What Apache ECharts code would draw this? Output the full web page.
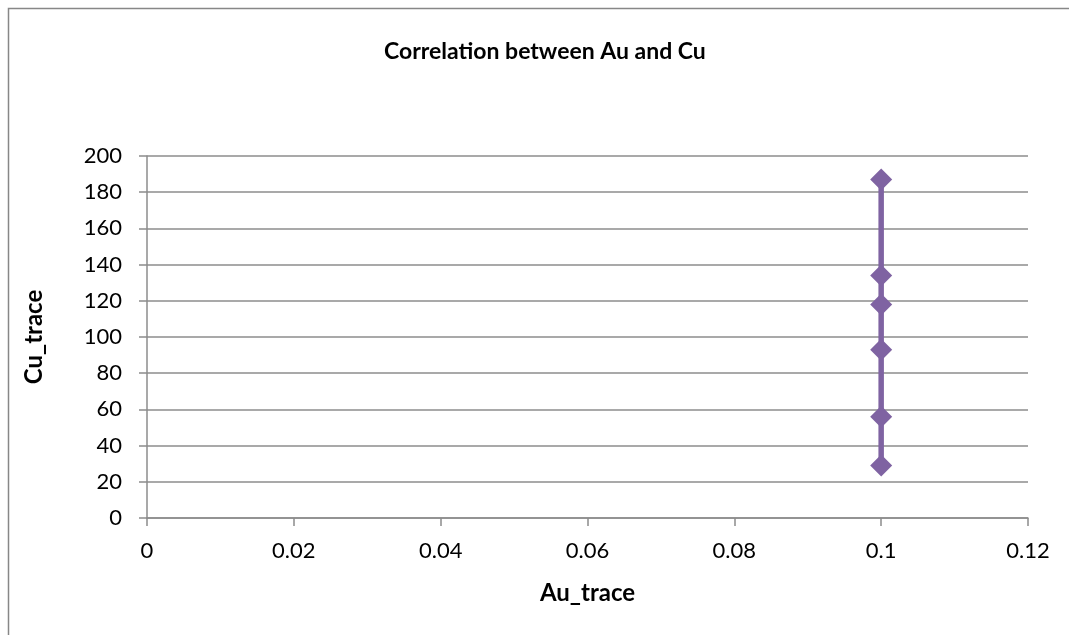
<!DOCTYPE html>
<html>
<head>
  <meta charset="utf-8">
  <title>Correlation between Au and Cu</title>
  <style>
    html, body, #main { margin: 0; padding: 0; width: 1069px; height: 635px; background: #fff; }
  </style>
  <script src="https://cdn.jsdelivr.net/npm/echarts@6/dist/echarts.min.js"></script>
</head>
<body>
  <div id="main"></div>
  <script>
    // values
    const auTrace = [0.1, 0.1, 0.1, 0.1, 0.1, 0.1];
    const cuTrace = [187, 134, 118, 93, 56, 29];
    const xTicks = { min: 0, max: 0.12, interval: 0.02 };
    const yTicks = { min: 0, max: 200, interval: 20 };

    const points = auTrace.map((x, i) => [x, cuTrace[i]]);
    const font = 'Lato, "Open Sans", sans-serif';
    const gray = '#8c8c8c';

    const chart = echarts.init(document.getElementById('main'));
    chart.setOption({
      animation: false,
      textStyle: { fontFamily: font },
      graphic: [{
        type: 'rect',
        shape: { x: 8.5, y: 8.5, width: 1100, height: 700 },
        style: { fill: 'none', stroke: '#878787', lineWidth: 1.5 },
        silent: true
      }],
      title: {
        text: 'Correlation between Au and Cu',
        left: 379,
        top: 35,
        textStyle: { fontFamily: font, fontSize: 23, fontWeight: 'bold', color: '#000' }
      },
      grid: { left: 147, right: 41, top: 156, bottom: 117 },
      xAxis: {
        type: 'value',
        min: xTicks.min, max: xTicks.max, interval: xTicks.interval,
        name: 'Au_trace',
        nameLocation: 'middle',
        nameGap: 63,
        nameTextStyle: { fontFamily: font, fontSize: 24, fontWeight: 'bold', color: '#000' },
        axisLine: { onZero: false, lineStyle: { color: gray, width: 1.5 } },
        axisTick: { show: true, length: 8, lineStyle: { color: gray, width: 1.5 } },
        axisLabel: { fontSize: 22, color: '#000', margin: 22 },
        splitLine: { show: false }
      },
      yAxis: {
        type: 'value',
        min: yTicks.min, max: yTicks.max, interval: yTicks.interval,
        name: 'Cu_trace',
        nameLocation: 'middle',
        nameGap: 101,
        nameTextStyle: { fontFamily: font, fontSize: 24, fontWeight: 'bold', color: '#000' },
        axisLine: { show: true, lineStyle: { color: gray, width: 1.5 } },
        axisTick: { show: true, length: 8, lineStyle: { color: gray, width: 1.5 } },
        axisLabel: { fontSize: 22, color: '#000', margin: 25 },
        splitLine: { lineStyle: { color: gray, width: 1.5 } }
      },
      series: [{
        type: 'line',
        data: points,
        symbol: 'diamond',
        symbolSize: 22,
        showAllSymbol: true,
        lineStyle: { color: '#7f63a2', width: 5.5 },
        itemStyle: { color: '#7f63a2' }
      }]
    });
  </script>
</body>
</html>
